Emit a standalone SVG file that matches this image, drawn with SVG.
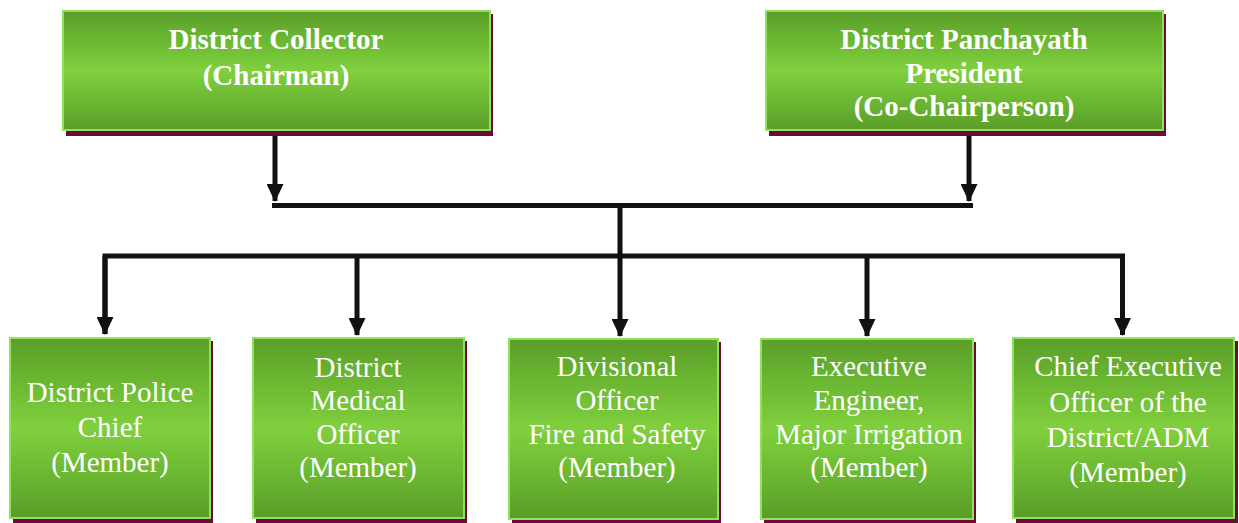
<svg xmlns="http://www.w3.org/2000/svg" width="1239" height="523" viewBox="0 0 1239 523">
<defs>
<linearGradient id="g" x1="0" y1="0" x2="0" y2="1">
<stop offset="0" stop-color="#5b9d29"/>
<stop offset="0.2" stop-color="#68b330"/>
<stop offset="0.5" stop-color="#80d03e"/>
<stop offset="0.8" stop-color="#68b330"/>
<stop offset="1" stop-color="#5a9c28"/>
</linearGradient>
<marker id="ah" markerUnits="userSpaceOnUse" markerWidth="18" markerHeight="17" refX="17" refY="8.5" orient="auto" viewBox="0 0 18 17">
<path d="M0,0 L18,8.5 L0,17 Z" fill="#111"/>
</marker>
<style>
.shadow{fill:#6e0b3d}
.box{fill:url(#g);stroke:#8fe25a;stroke-width:2}
.t{font-family:"Liberation Serif","Times New Roman",serif;font-size:29px;fill:#fff;text-anchor:middle}
.b{font-weight:bold}
.c{stroke:#111;stroke-width:5;fill:none}
</style>
</defs>
<g id="connectors">
<line class="c" x1="275" y1="131" x2="275" y2="201" marker-end="url(#ah)"/>
<line class="c" x1="969" y1="131" x2="969" y2="201" marker-end="url(#ah)"/>
<line class="c" x1="272" y1="205.5" x2="973" y2="205.5"/>
<line class="c" x1="620" y1="205.5" x2="620" y2="336" marker-end="url(#ah)"/>
<polyline class="c" points="105,334 105,256 1122.5,256 1122.5,334"/>
<line class="c" x1="105" y1="256" x2="105" y2="334" marker-end="url(#ah)"/>
<line class="c" x1="357" y1="256" x2="357" y2="335" marker-end="url(#ah)"/>
<line class="c" x1="867" y1="256" x2="867" y2="336" marker-end="url(#ah)"/>
<line class="c" x1="1122.5" y1="256" x2="1122.5" y2="335" marker-end="url(#ah)"/>
</g>
<g id="collector">
<rect class="shadow" x="66" y="14" width="427" height="122"/>
<rect class="box" x="63" y="11" width="427" height="119"/>
<text class="t b" x="276" y="49">District Collector</text>
<text class="t b" x="276" y="85">(Chairman)</text>
</g>
<g id="president">
<rect class="shadow" x="769" y="14" width="397" height="122"/>
<rect class="box" x="766" y="11" width="397" height="119"/>
<text class="t b" x="964" y="49">District Panchayath</text>
<text class="t b" x="964" y="83">President</text>
<text class="t b" x="964" y="116">(Co-Chairperson)</text>
</g>
<g id="police">
<rect class="shadow" x="13" y="341" width="200" height="182"/>
<rect class="box" x="10" y="338" width="200" height="180"/>
<text class="t" x="110" y="402">District Police</text>
<text class="t" x="110" y="437">Chief</text>
<text class="t" x="110" y="472">(Member)</text>
</g>
<g id="medical">
<rect class="shadow" x="256" y="341" width="211" height="182"/>
<rect class="box" x="253" y="338" width="211" height="180"/>
<text class="t" x="358" y="377">District</text>
<text class="t" x="358" y="410">Medical</text>
<text class="t" x="358" y="444">Officer</text>
<text class="t" x="358" y="477">(Member)</text>
</g>
<g id="fire">
<rect class="shadow" x="512" y="342" width="209" height="181"/>
<rect class="box" x="509" y="339" width="209" height="180"/>
<text class="t" x="617" y="376">Divisional</text>
<text class="t" x="617" y="410">Officer</text>
<text class="t" x="617" y="444">Fire and Safety</text>
<text class="t" x="617" y="477">(Member)</text>
</g>
<g id="irrigation">
<rect class="shadow" x="764" y="342" width="212" height="181"/>
<rect class="box" x="761" y="339" width="212" height="180"/>
<text class="t" x="869" y="376">Executive</text>
<text class="t" x="869" y="410">Engineer,</text>
<text class="t" x="869" y="444">Major Irrigation</text>
<text class="t" x="869" y="477">(Member)</text>
</g>
<g id="ceo">
<rect class="shadow" x="1016" y="341" width="222" height="182"/>
<rect class="box" x="1013" y="338" width="221" height="180"/>
<text class="t" x="1128" y="376">Chief Executive</text>
<text class="t" x="1128" y="412">Officer of the</text>
<text class="t" x="1128" y="447">District/ADM</text>
<text class="t" x="1128" y="482">(Member)</text>
</g>
</svg>
